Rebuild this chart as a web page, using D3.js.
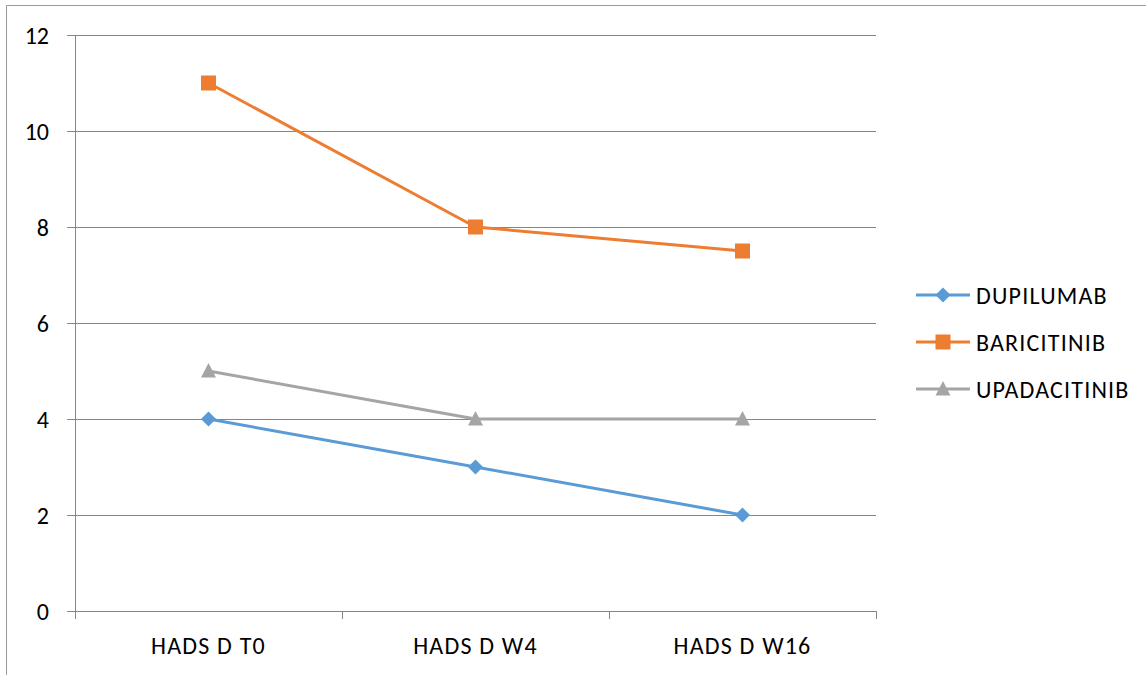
<!DOCTYPE html>
<html>
<head>
<meta charset="utf-8">
<script src="https://cdn.jsdelivr.net/npm/d3@7"></script>
<style>
  html, body { margin: 0; padding: 0; background: #fff; }
  svg { display: block; }
  text { font-family: Carlito, Lato, "Open Sans", sans-serif; fill: #000; }
</style>
</head>
<body>
<svg id="chart" width="1146" height="675"></svg>
<script>
// HADS depression scores per treatment over time
const categories = ["HADS D T0", "HADS D W4", "HADS D W16"];
const dupilumab = [4, 3, 2];
const baricitinib = [11, 8, 7.5];
const upadacitinib = [5, 4, 4];
const yTicks = [0, 2, 4, 6, 8, 10, 12];

const series = [
  { name: "DUPILUMAB", values: dupilumab, color: "#5B9BD5", marker: "diamond" },
  { name: "BARICITINIB", values: baricitinib, color: "#ED7D31", marker: "square" },
  { name: "UPADACITINIB", values: upadacitinib, color: "#A5A5A5", marker: "triangle" }
];

const svg = d3.select("#chart");
const plot = { left: 75, right: 876, top: 35, bottom: 611 };
const axisColor = "#868686";
const fontSize = 24;
const spacing = "1.2px";

// outer frame (top and left edges visible)
svg.append("path")
  .attr("d", "M6.5,675 V5.5 H1146")
  .attr("fill", "none").attr("stroke", "#9a9a9a").attr("stroke-width", 1);

const x = d3.scaleBand().domain(categories).range([plot.left, plot.right]);
const y = d3.scaleLinear().domain([0, 12]).range([plot.bottom, plot.top]);

// horizontal gridlines with left tick stubs
const yAxis = d3.axisLeft(y).tickValues(yTicks).tickSize(plot.right - plot.left + 8).tickPadding(18);
const gy = svg.append("g").attr("transform", `translate(${plot.right},0)`).call(yAxis);
gy.attr("font-size", null).attr("font-family", null);
gy.select(".domain").remove();
gy.selectAll(".tick line").attr("stroke", axisColor).attr("stroke-width", 1)
  .attr("shape-rendering", "crispEdges");
gy.selectAll(".tick text").attr("font-size", fontSize).attr("dy", "0.36em").attr("fill", "#000");

// vertical axis line
svg.append("line")
  .attr("x1", plot.left + 0.5).attr("x2", plot.left + 0.5)
  .attr("y1", plot.top).attr("y2", plot.bottom + 8)
  .attr("stroke", axisColor).attr("shape-rendering", "crispEdges");

// category axis with boundary ticks
const bounds = categories.map(c => x(c)).concat([x(categories[categories.length - 1]) + x.bandwidth()]);
svg.selectAll("line.xtick").data(bounds).join("line")
  .attr("class", "xtick")
  .attr("x1", d => Math.round(d) + 0.5).attr("x2", d => Math.round(d) + 0.5)
  .attr("y1", plot.bottom).attr("y2", plot.bottom + 8)
  .attr("stroke", axisColor).attr("shape-rendering", "crispEdges");
svg.selectAll("text.xlab").data(categories).join("text")
  .attr("class", "xlab")
  .attr("x", d => x(d) + x.bandwidth() / 2)
  .attr("y", 654)
  .attr("text-anchor", "middle")
  .attr("font-size", fontSize)
  .attr("letter-spacing", spacing)
  .text(d => d);

const cx = c => x(c) + x.bandwidth() / 2;
const line = d3.line().x((d, i) => cx(categories[i])).y(d => y(d));

function drawMarker(g, type, color, px, py) {
  if (type === "diamond") {
    g.append("path").attr("d", `M${px},${py - 7.5} L${px + 7.5},${py} L${px},${py + 7.5} L${px - 7.5},${py} Z`)
      .attr("fill", color);
  } else if (type === "square") {
    g.append("rect").attr("x", px - 7.5).attr("y", py - 7.5).attr("width", 15).attr("height", 15)
      .attr("fill", color);
  } else {
    g.append("path").attr("d", `M${px},${py - 8} L${px + 7.5},${py + 6.5} L${px - 7.5},${py + 6.5} Z`)
      .attr("fill", color);
  }
}

series.forEach(s => {
  const g = svg.append("g");
  g.append("path").datum(s.values)
    .attr("d", line).attr("fill", "none")
    .attr("stroke", s.color).attr("stroke-width", 3).attr("stroke-linejoin", "round");
  s.values.forEach((v, i) => drawMarker(g, s.marker, s.color, cx(categories[i]), y(v)));
});

// legend
const legendY = [295, 342, 389];
series.forEach((s, i) => {
  const g = svg.append("g");
  const ly = legendY[i];
  g.append("line").attr("x1", 916).attr("x2", 970).attr("y1", ly).attr("y2", ly)
    .attr("stroke", s.color).attr("stroke-width", 3);
  drawMarker(g, s.marker, s.color, 943, ly);
  g.append("text").attr("x", 976).attr("y", ly).attr("dy", "0.36em")
    .attr("font-size", fontSize).attr("letter-spacing", spacing).text(s.name);
});
</script>
</body>
</html>
